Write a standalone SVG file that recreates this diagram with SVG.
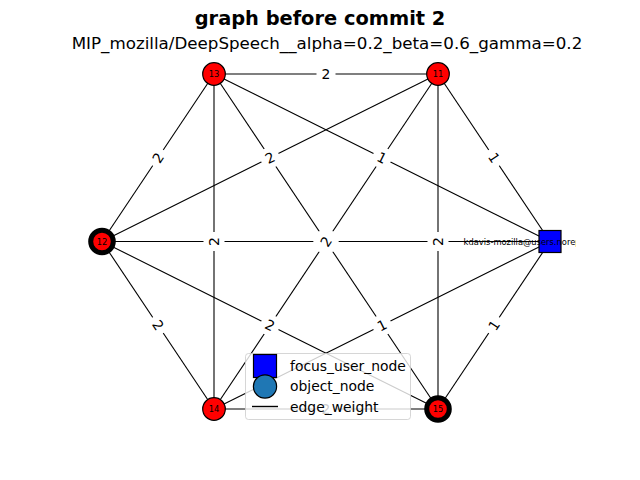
<svg xmlns="http://www.w3.org/2000/svg" width="640" height="480" viewBox="0 0 640 480">
<defs>
<style>
text{font-family:"DejaVu Sans","Liberation Sans",sans-serif;fill:#000}
.e line{stroke:#000;stroke-width:1.1}
.el rect{fill:#fff}
.el text{font-size:13.9px;text-anchor:middle}
.n circle{fill:#ff0000;stroke:#000;stroke-width:1.2}
.n.t circle{stroke-width:5}
.n text{font-size:8.3px;text-anchor:middle}
.lg text{font-size:13.9px}
</style>
<clipPath id="ax"><rect x="80" y="57.6" width="496" height="369.6"/></clipPath>
<rect id="lbox" x="-9.5" y="-10.5" width="19" height="21" rx="4"/>
</defs>
<rect width="640" height="480" fill="#fff"/>
<text x="320" y="25" font-size="19.4" font-weight="bold" text-anchor="middle">graph before commit 2</text>
<text x="327" y="49" font-size="16.7" text-anchor="middle">MIP_mozilla/DeepSpeech__alpha=0.2_beta=0.6_gamma=0.2</text>

<g id="connectors" class="e">
<line x1="214" y1="74" x2="438" y2="74"/>
<line x1="214" y1="74" x2="102" y2="241.5"/>
<line x1="214" y1="74" x2="214" y2="409"/>
<line x1="214" y1="74" x2="438" y2="409"/>
<line x1="214" y1="74" x2="550" y2="241.5"/>
<line x1="438" y1="74" x2="102" y2="241.5"/>
<line x1="438" y1="74" x2="214" y2="409"/>
<line x1="438" y1="74" x2="438" y2="409"/>
<line x1="438" y1="74" x2="550" y2="241.5"/>
<line x1="102" y1="241.5" x2="550" y2="241.5"/>
<line x1="102" y1="241.5" x2="214" y2="409"/>
<line x1="102" y1="241.5" x2="438" y2="409"/>
<line x1="214" y1="409" x2="438" y2="409"/>
<line x1="214" y1="409" x2="550" y2="241.5"/>
<line x1="438" y1="409" x2="550" y2="241.5"/>
</g>

<g id="node-13" class="n"><circle cx="214" cy="74" r="11.3"/><text x="214" y="77">13</text></g>
<g id="node-11" class="n"><circle cx="438" cy="74" r="11.3"/><text x="438" y="77">11</text></g>
<g id="node-12" class="n t"><circle cx="102" cy="241.5" r="11.3"/><text x="102" y="244.5">12</text></g>
<g id="node-14" class="n"><circle cx="214" cy="409" r="11.3"/><text x="214" y="412">14</text></g>
<g id="node-15" class="n t"><circle cx="438" cy="409" r="11.3"/><text x="438" y="412">15</text></g>
<g id="node-focus"><rect x="539" y="230.5" width="22" height="22" fill="#0000ff" stroke="#000" stroke-width="1.2"/>
<text x="550" y="244.5" font-size="8.33" text-anchor="middle" clip-path="url(#ax)">kdavis-mozilla@users.noreply.github.com</text></g>

<g id="edge-labels" class="el">
<g transform="translate(326,74)"><use href="#lbox" fill="#fff"/><text y="5">2</text></g>
<g transform="translate(158,157.75) rotate(-56.3)"><use href="#lbox" fill="#fff"/><text y="5">2</text></g>
<g transform="translate(214,241.5) rotate(-90)"><use href="#lbox" fill="#fff"/><text y="5">2</text></g>
<g transform="translate(382,157.75) rotate(26.5)"><use href="#lbox" fill="#fff"/><text y="5">1</text></g>
<g transform="translate(270,157.75) rotate(-26.5)"><use href="#lbox" fill="#fff"/><text y="5">2</text></g>
<g transform="translate(438,241.5) rotate(-90)"><use href="#lbox" fill="#fff"/><text y="5">2</text></g>
<g transform="translate(494,157.75) rotate(56.3)"><use href="#lbox" fill="#fff"/><text y="5">1</text></g>
<g transform="translate(326,241.5)"><use href="#lbox" fill="#fff"/></g>
<g transform="translate(326,241.5) rotate(56.3)"><use href="#lbox" fill="#fff"/></g>
<g transform="translate(326,241.5) rotate(-56.3)"><use href="#lbox" fill="#fff"/><text y="5">2</text></g>
<g transform="translate(158,325.25) rotate(56.3)"><use href="#lbox" fill="#fff"/><text y="5">2</text></g>
<g transform="translate(270,325.25) rotate(26.5)"><use href="#lbox" fill="#fff"/><text y="5">2</text></g>
<g transform="translate(326,409)"><use href="#lbox" fill="#fff"/><text y="5">2</text></g>
<g transform="translate(382,325.25) rotate(-26.5)"><use href="#lbox" fill="#fff"/><text y="5">1</text></g>
<g transform="translate(494,325.25) rotate(-56.3)"><use href="#lbox" fill="#fff"/><text y="5">1</text></g>
</g>

<g id="legend" class="lg">
<rect x="245.5" y="353.5" width="165" height="66" rx="3" fill="#fff" fill-opacity="0.8" stroke="#ccc" stroke-opacity="0.8"/>
<rect x="253.5" y="354.5" width="23" height="23" fill="#0000ff" stroke="#000" stroke-width="1.2"/>
<circle cx="265" cy="386.5" r="11.6" fill="#1f77b4" stroke="#000" stroke-width="1.2"/>
<line x1="252" y1="406.5" x2="278" y2="406.5" stroke="#000" stroke-width="1.4"/>
<text x="290" y="370.5">focus_user_node</text>
<text x="290" y="391">object_node</text>
<text x="290" y="411.5">edge_weight</text>
</g>
</svg>
